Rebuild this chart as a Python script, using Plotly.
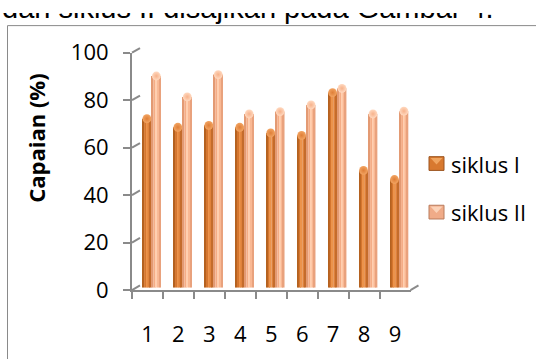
import plotly.graph_objects as go

# ---- data -------------------------------------------------------------
categories = ["1", "2", "3", "4", "5", "6", "7", "8", "9"]
siklus_1 = [71.2, 67.6, 68.4, 67.6, 65.2, 64.2, 82.2, 49.4, 45.6]
siklus_2 = [89.2, 80.4, 89.8, 73.2, 74.2, 77.0, 84.0, 73.2, 74.4]
series_names = ["siklus I", "siklus II"]
y_ticks = [0, 20, 40, 60, 80, 100]
y_title = "Capaian (%)"
caption = "dan siklus II disajikan pada Gambar 4."

# ---- canvas helpers (pixel -> paper) -----------------------------------
W, H = 536, 359


def px(x):
    return x / W


def py(y):
    return 1 - y / H


FONT = "Open Sans"
GRID = "#8a8a8a"

# back wall (gridlines), mid depth (bars), front (axes) planes
BACK = dict(x0=140, x1=418.5, y0=294, y1=35)
DEPTH = (-8, 5)  # shift of the front plane relative to the back wall


def plane(frac):
    dx, dy = DEPTH[0] * frac, DEPTH[1] * frac
    return ([px(BACK["x0"] + dx), px(BACK["x1"] + dx)],
            [py(BACK["y0"] + dy), py(BACK["y1"] + dy)])


back_x, back_y = plane(0.0)
mid_x, mid_y = plane(0.5)
front_x, front_y = plane(1.0)

positions = [i + 1 for i in range(len(categories))]
xr = [0.5, len(categories) + 0.5]

fig = go.Figure()

# cylinder shading: vertical strips laid over each column
BAR_W = 0.285
styles = [
    dict(offset=-0.29,
         strips=[(0.0, 0.18, "#b4611f"), (0.18, 0.42, "#d5762f"),
                 (0.42, 0.58, "#ec934b"), (0.58, 0.82, "#e0823b"),
                 (0.82, 1.0, "#c46c2c")],
         cap="#df7f38", cap_hi="#f2a462", swatch="#d8792f",
         swatch_hi="#f0a560", swatch_edge="#9c5520"),
    dict(offset=0.015,
         strips=[(0.0, 0.18, "#e39a73"), (0.18, 0.42, "#f5ad86"),
                 (0.42, 0.58, "#ffcfb0"), (0.58, 0.82, "#f9b893"),
                 (0.82, 1.0, "#e9a27d")],
         cap="#f7b28b", cap_hi="#ffd9c0", swatch="#f0ab88",
         swatch_hi="#fbd2b8", swatch_edge="#b97c5d"),
]

for name, vals, st in zip(series_names, [siklus_1, siklus_2], styles):
    for f0, f1, col in st["strips"]:
        fig.add_trace(go.Bar(
            x=positions, y=vals, name=name, showlegend=False,
            offset=st["offset"] + f0 * BAR_W, width=(f1 - f0) * BAR_W,
            marker=dict(color=col, line=dict(width=0)),
            xaxis="x2", yaxis="y2", hoverinfo="skip"))
    # rounded cap on top of each cylinder
    fig.add_trace(go.Scatter(
        x=[p + st["offset"] + BAR_W / 2 for p in positions], y=vals,
        mode="markers", showlegend=False, hoverinfo="skip",
        marker=dict(symbol="circle", size=8.8, color=st["cap_hi"],
                    gradient=dict(type="radial", color=st["cap"]),
                    line=dict(width=0)),
        xaxis="x2", yaxis="y2", cliponaxis=False))

# invisible carrier so the front axes get their categories
fig.add_trace(go.Scatter(x=categories, y=[0] * len(categories), mode="none",
                         showlegend=False, hoverinfo="skip",
                         xaxis="x3", yaxis="y3"))

hidden = dict(showgrid=False, zeroline=False, showline=False,
              showticklabels=False, ticks="")
tick_font = dict(family=FONT, size=22, color="black")

fig.update_layout(
    width=W, height=H,
    margin=dict(l=0, r=0, t=0, b=0),
    paper_bgcolor="white", plot_bgcolor="rgba(0,0,0,0)",
    barmode="overlay", showlegend=False,
    xaxis=dict(domain=back_x, range=xr, **hidden),
    yaxis=dict(domain=back_y, range=[0, 100], tickvals=y_ticks,
               showgrid=True, gridcolor=GRID, gridwidth=2.2,
               zeroline=False, showline=False, showticklabels=False),
    xaxis2=dict(domain=mid_x, range=xr, anchor="y2", **hidden),
    yaxis2=dict(domain=mid_y, range=[0, 100], anchor="x2", **hidden),
    xaxis3=dict(domain=front_x, anchor="y3", type="category",
                categoryarray=categories, range=[-0.5, 8.5],
                showgrid=False, zeroline=False, showline=True,
                linecolor=GRID, linewidth=2, ticks="outside",
                tickson="boundaries", ticklen=7, tickwidth=2,
                tickcolor=GRID, ticklabelstandoff=24, tickfont=tick_font),
    yaxis3=dict(domain=front_y, anchor="x3", range=[0, 100],
                tickvals=y_ticks, showgrid=False, zeroline=False,
                showline=True, linecolor=GRID, linewidth=2,
                ticks="outside", ticklen=7, tickwidth=2, tickcolor=GRID,
                ticklabelstandoff=10, tickfont=tick_font),
)

shapes = []
# chart frame
shapes.append(dict(type="rect", xref="paper", yref="paper",
                   x0=px(7.5), x1=px(560), y0=py(10.5), y1=py(380),
                   line=dict(color="#8a8a8a", width=1), layer="below"))

# depth connectors from front ticks to the back wall
fx0 = BACK["x0"] + DEPTH[0]
for t in y_ticks:
    yb = BACK["y0"] + (BACK["y1"] - BACK["y0"]) * t / 100
    shapes.append(dict(type="line", xref="paper", yref="paper",
                       x0=px(fx0), y0=py(yb + DEPTH[1]),
                       x1=px(BACK["x0"]), y1=py(yb),
                       line=dict(color=GRID, width=2)))
# right floor corner
shapes.append(dict(type="line", xref="paper", yref="paper",
                   x0=px(BACK["x1"] + DEPTH[0]), y0=py(BACK["y0"] + DEPTH[1]),
                   x1=px(BACK["x1"]), y1=py(BACK["y0"]),
                   line=dict(color=GRID, width=2)))

annotations = []
# legend: bevelled swatches + labels
legend_rows = [161, 214]
for name, st, yc in zip(series_names, styles, legend_rows):
    x0, x1, y0, y1 = 429, 444, yc - 7.5, yc + 7.5
    shapes.append(dict(type="rect", xref="paper", yref="paper",
                       x0=px(x0), x1=px(x1), y0=py(y1), y1=py(y0),
                       fillcolor=st["swatch"],
                       line=dict(color=st["swatch_edge"], width=1)))
    xm, ym = (x0 + x1) / 2, (y0 + y1) / 2
    shapes.append(dict(type="path", xref="paper", yref="paper",
                       path=(f"M{px(x0 + 1.5)},{py(y0 + 1.5)} "
                             f"L{px(x1 - 1.5)},{py(y0 + 1.5)} "
                             f"L{px(xm)},{py(ym + 1)} Z"),
                       fillcolor=st["swatch_hi"], line=dict(width=0)))
    annotations.append(dict(text=name, xref="paper", yref="paper",
                            x=px(449), y=py(yc), xanchor="left",
                            yanchor="middle", showarrow=False,
                            font=dict(family=FONT, size=22, color="black")))

# axis title
annotations.append(dict(text=f"<b>{y_title}</b>", xref="paper", yref="paper",
                        x=px(36), y=py(134), textangle=-90,
                        xanchor="center", yanchor="middle", showarrow=False,
                        font=dict(family=FONT, size=22, color="black")))

# running text of the page above the chart (only its lower part shows)
annotations.append(dict(text=caption, xref="paper", yref="paper",
                        x=px(0), y=py(11), xanchor="left", yanchor="bottom",
                        height=11, valign="bottom", showarrow=False,
                        font=dict(family="Liberation Sans", size=29,
                                  color="black")))

fig.update_layout(shapes=shapes, annotations=annotations)

fig.write_html("out.html")
